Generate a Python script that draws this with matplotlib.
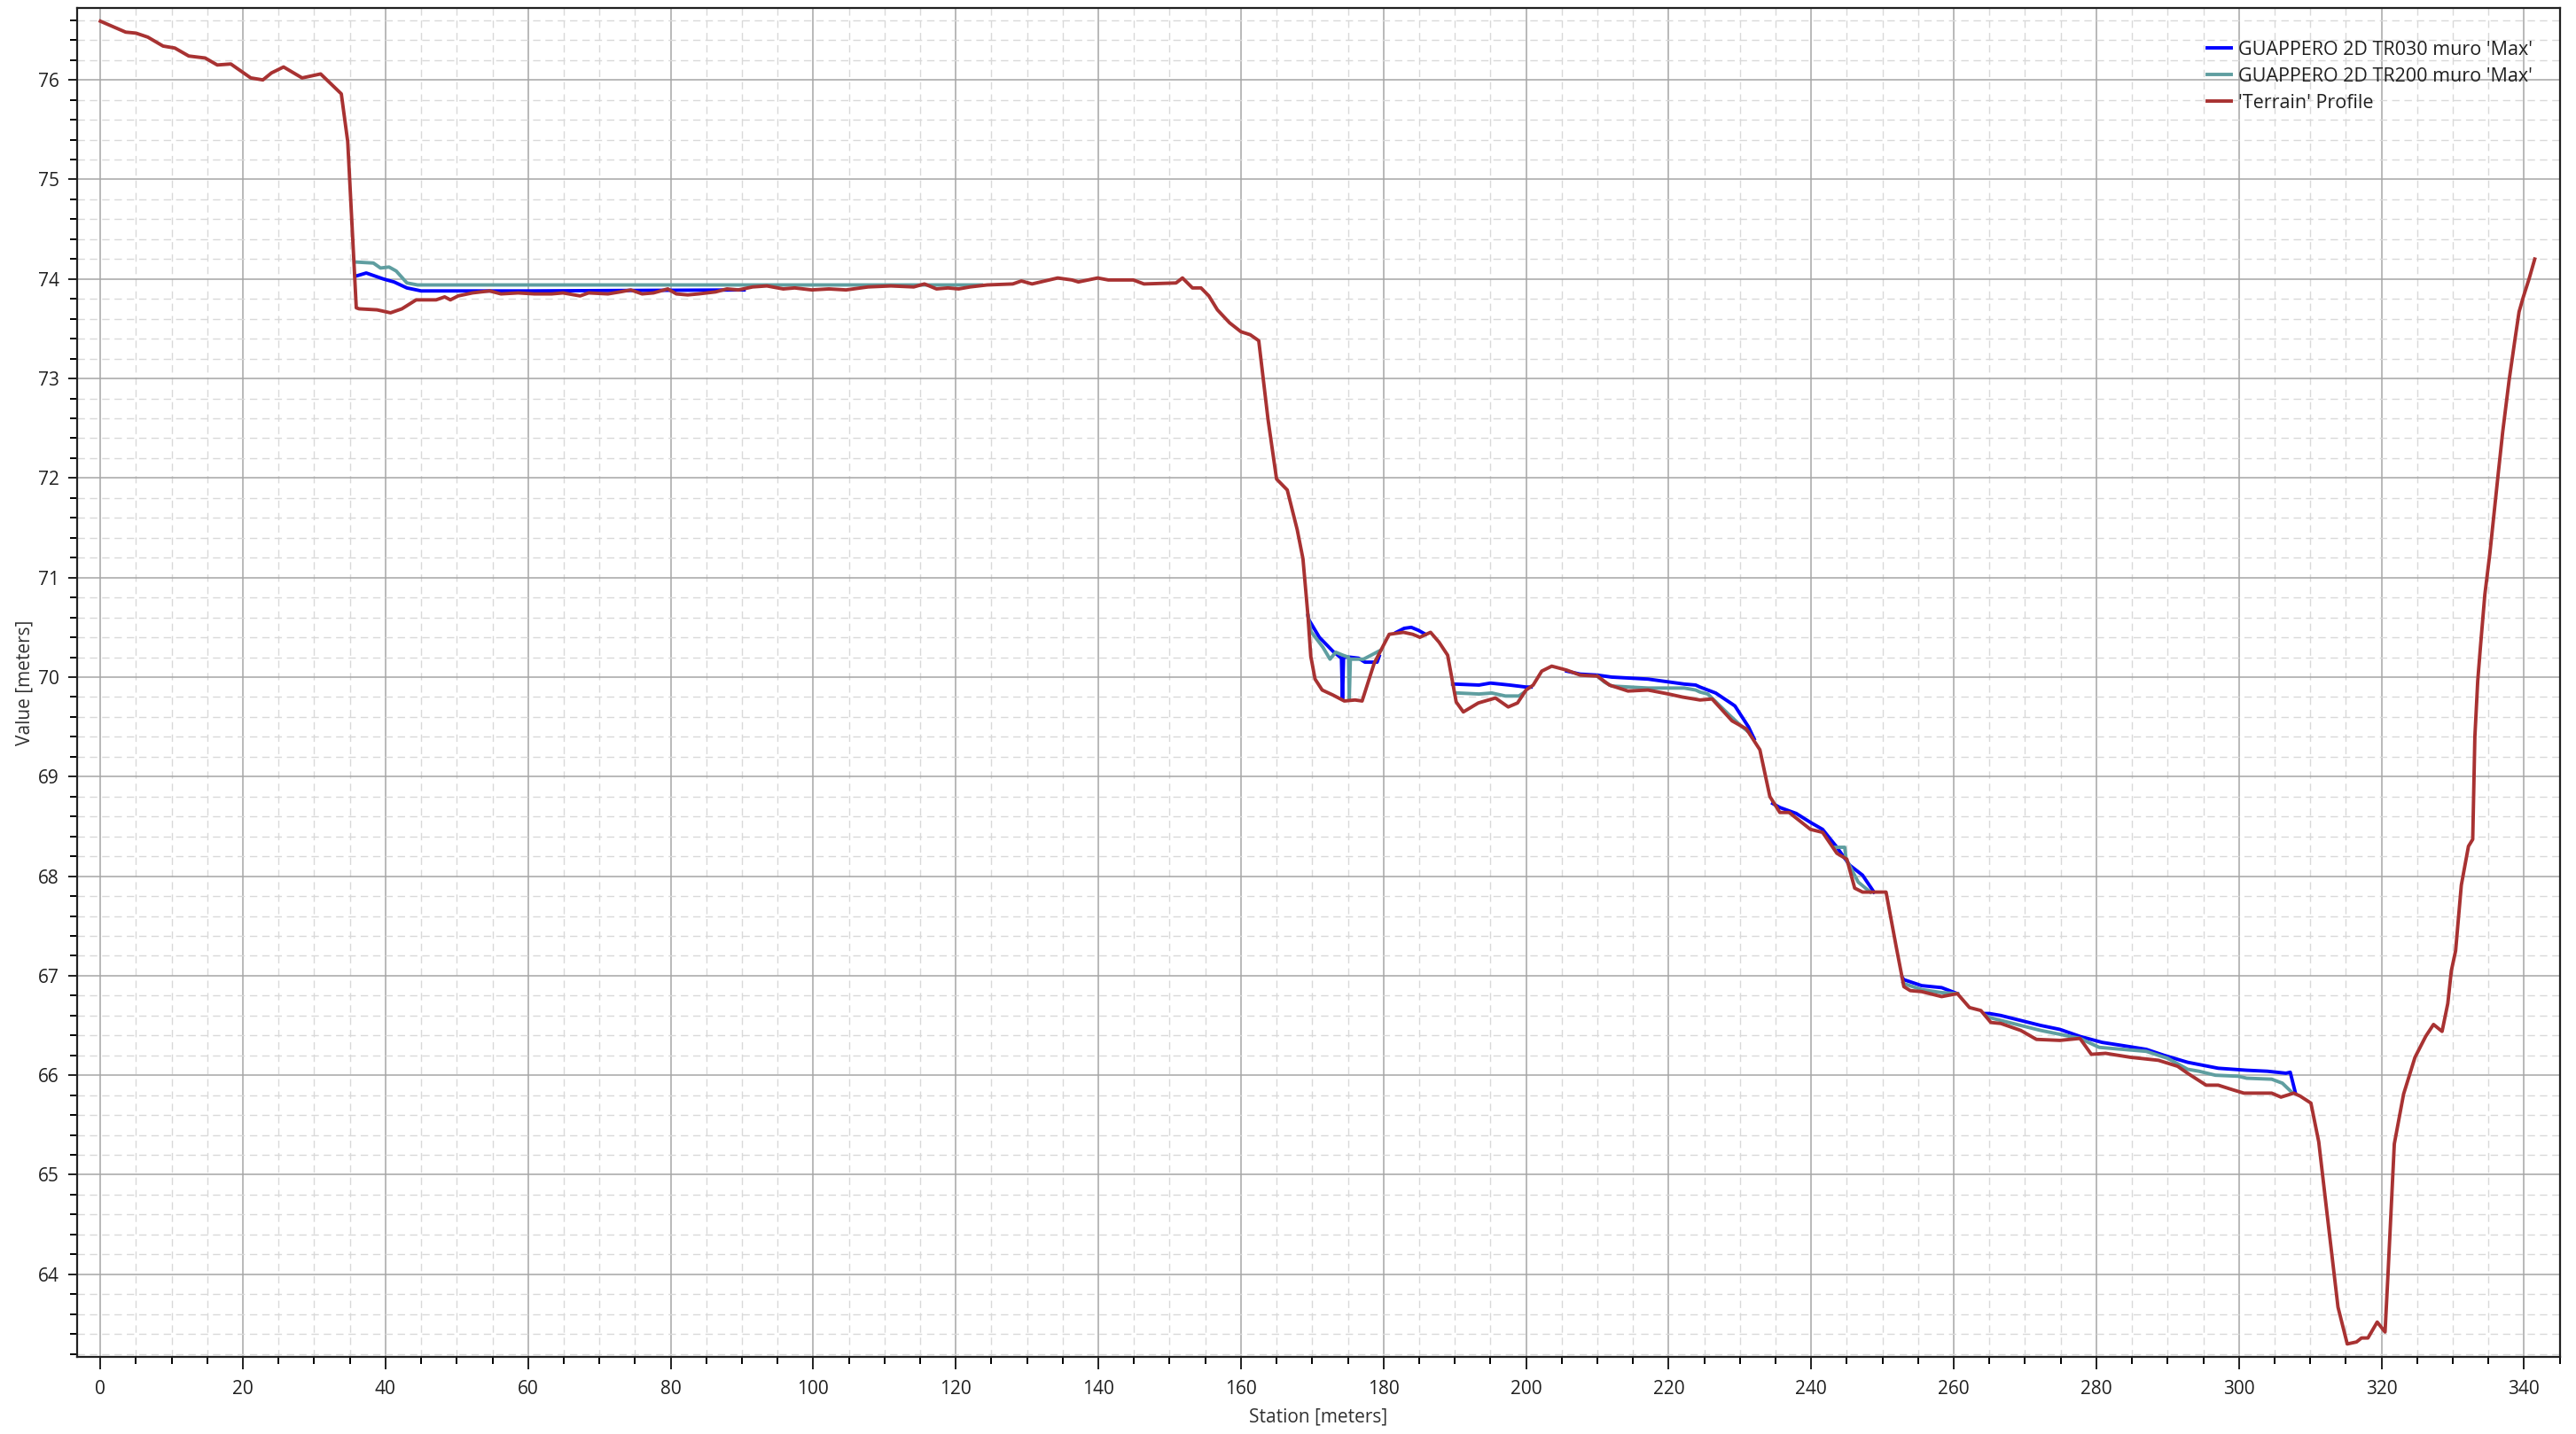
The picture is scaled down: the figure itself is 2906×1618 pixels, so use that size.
import numpy as np
import matplotlib
matplotlib.use("Agg")
import matplotlib.pyplot as plt
from matplotlib.ticker import MultipleLocator

plt.rcParams['font.family'] = ['Open Sans', 'DejaVu Sans']

# ---------------- data ----------------
terrain_x = [0, 1.6, 3.55, 5.0, 6.65, 8.8, 10.45, 12.4, 14.7, 16.4, 18.3, 21.1, 22.8, 24.0, 25.7,
             28.3, 30.9, 33.8, 34.7, 35.9, 36.3, 38.8, 40.7, 42.3, 44.3, 47.1, 48.3, 49.1, 50.2,
             52.2, 54.6, 56.2, 58.6, 60.9, 63.3, 64.9, 67.3, 68.5, 71.2, 72.9, 74.4, 76.0, 77.6,
             79.6, 80.8, 82.4, 83.9, 86.3, 87.9, 89.5, 91.5, 93.5, 95.8, 97.4, 99.8, 102.2, 104.6,
             107.7, 110.9, 114.1, 115.6, 117.3, 118.9, 120.4, 122.0, 124.4, 128.0, 129.2, 130.7,
             134.3, 136.3, 137.2, 139.9, 141.4, 144.9, 146.4, 150.9, 151.8, 153.2, 154.4, 155.5,
             156.7, 158.4, 160.0, 161.3, 162.5, 163.8, 165.0, 166.5, 167.9, 168.7, 169.4, 169.8,
             170.4, 171.4, 172.9, 174.5, 176.0, 177.0, 178.7, 180.8, 182.8, 184.1, 185.1, 186.6,
             187.8, 189.0, 190.2, 191.2, 193.3, 195.7, 197.5, 198.8, 200.0, 201.0, 202.2, 203.6,
             205.7, 207.6, 210.0, 211.7, 214.3, 217.1, 220.0, 221.9, 224.4, 226.1, 228.9, 230.9,
             232.8, 234.2, 235.6, 236.9, 239.9, 241.6, 243.6, 245.0, 246.1, 247.2, 250.5, 251.9,
             253.0, 253.9, 255.5, 258.3, 260.5, 262.2, 263.8, 265.2, 266.6, 269.4, 271.6, 274.9,
             277.7, 279.3, 281.3, 284.8, 288.7, 291.4, 292.8, 295.4, 297.1, 299.3, 300.7, 304.6,
             305.9, 307.7, 308.6, 310.1, 311.2, 312.3, 313.9, 315.2, 316.5, 317.2, 318.1, 319.4,
             320.5, 320.9, 321.8, 323.1, 324.7, 326.2, 327.3, 328.5, 329.3, 329.8, 330.4, 331.2,
             332.2, 332.8, 333.1, 333.5, 333.9, 334.5, 335.2, 335.8, 336.4, 337.0, 337.9, 338.7,
             339.3, 339.9, 340.7, 341.5]
terrain_z = [76.59, 76.54, 76.48, 76.47, 76.43, 76.34, 76.32, 76.24, 76.22, 76.15, 76.16, 76.02, 76.00,
             76.07, 76.13, 76.02, 76.06, 75.86, 75.38, 73.71, 73.70, 73.69, 73.66, 73.70, 73.79,
             73.79, 73.82, 73.79, 73.83, 73.86, 73.88, 73.85, 73.86, 73.85, 73.85, 73.86, 73.83,
             73.86, 73.85, 73.87, 73.89, 73.85, 73.86, 73.90, 73.85, 73.84, 73.85, 73.87, 73.90,
             73.89, 73.92, 73.93, 73.90, 73.91, 73.89, 73.90, 73.89, 73.92, 73.93, 73.92, 73.95,
             73.90, 73.91, 73.90, 73.92, 73.94, 73.95, 73.98, 73.95, 74.01, 73.99, 73.97, 74.01,
             73.99, 73.99, 73.95, 73.96, 74.01, 73.91, 73.91, 73.83, 73.69, 73.56, 73.47, 73.44,
             73.38, 72.59, 71.99, 71.88, 71.48, 71.19, 70.62, 70.21, 69.98, 69.87, 69.82, 69.76,
             69.77, 69.76, 70.14, 70.43, 70.45, 70.43, 70.40, 70.45, 70.35, 70.22, 69.75, 69.65,
             69.74, 69.79, 69.70, 69.74, 69.87, 69.92, 70.06, 70.11, 70.07, 70.02, 70.01, 69.92,
             69.86, 69.87, 69.83, 69.80, 69.77, 69.78, 69.56, 69.48, 69.27, 68.80, 68.64, 68.64,
             68.47, 68.44, 68.23, 68.17, 67.88, 67.84, 67.84, 67.30, 66.89, 66.85, 66.84, 66.79,
             66.82, 66.68, 66.65, 66.53, 66.52, 66.45, 66.36, 66.35, 66.37, 66.21, 66.22, 66.18,
             66.15, 66.09, 66.02, 65.90, 65.90, 65.85, 65.82, 65.82, 65.78, 65.82, 65.79, 65.72,
             65.33, 64.65, 63.67, 63.30, 63.32, 63.36, 63.36, 63.52, 63.42, 63.98, 65.31, 65.81,
             66.18, 66.39, 66.51, 66.44, 66.72, 67.05, 67.25, 67.91, 68.30, 68.37, 69.40, 69.96,
             70.32, 70.83, 71.24, 71.65, 72.06, 72.46, 72.98, 73.38, 73.67, 73.82, 74.00, 74.20]

# Water surface TR030 (only where it departs from the terrain; NaN = gap)
tr030_x = [35.9, 37.3, 39.7, 41.2, 43.0, 45.0, 60.0, 90.3, np.nan,
           169.4, 169.5, 171.0, 172.9, 174.1, 174.25, 174.4, 175.3, 176.5, 177.4, 179.1, 179.4, np.nan,
           181.8, 182.9, 183.9, 184.9, 185.9, np.nan,
           189.7, 190.0, 193.4, 195.0, 197.7, 200.0, 200.7, np.nan,
           205.7, 207.6, 210.0, 212.0, 217.1, 222.2, 223.8, 224.4, 226.6, 228.9, 229.3, 231.2, 232.0, np.nan,
           234.6, 235.6, 237.9, 239.9, 241.6, 243.5, 245.4, 247.2, 248.8, np.nan,
           252.8, 253.0, 255.5, 258.3, 260.5, np.nan,
           264.4, 265.0, 266.6, 269.4, 272.2, 274.9, 277.7, 280.8, 283.5, 287.0, 289.5, 292.8,
           297.1, 301.1, 304.0, 306.6, 307.2, 307.9]
tr030_z = [74.03, 74.06, 74.00, 73.97, 73.91, 73.88, 73.88, 73.89, np.nan,
           70.62, 70.58, 70.40, 70.26, 70.19, 69.78, 70.20, 70.20, 70.19, 70.15, 70.15, 70.21, np.nan,
           70.45, 70.49, 70.50, 70.47, 70.43, np.nan,
           69.93, 69.93, 69.92, 69.94, 69.92, 69.90, 69.90, np.nan,
           70.06, 70.03, 70.02, 70.00, 69.98, 69.93, 69.92, 69.90, 69.84, 69.73, 69.71, 69.50, 69.38, np.nan,
           68.73, 68.69, 68.63, 68.54, 68.47, 68.30, 68.11, 68.01, 67.84, np.nan,
           66.98, 66.96, 66.90, 66.88, 66.82, np.nan,
           66.62, 66.62, 66.60, 66.55, 66.50, 66.46, 66.39, 66.33, 66.30, 66.26, 66.20, 66.13,
           66.07, 66.05, 66.04, 66.02, 66.03, 65.83]

# Water surface TR200
tr200_x = [35.9, 38.3, 39.3, 40.5, 41.5, 43.0, 44.5, 80.0, 123.6, np.nan,
           169.4, 169.8, 171.5, 172.5, 173.3, 174.3, 175.1, 175.2, 175.35, 175.7, 177.2, 179.6, np.nan,
           190.2, 190.5, 193.4, 195.2, 197.1, 199.0, 199.8, np.nan,
           210.0, 211.0, 212.0, 217.1, 222.2, 223.8, 224.4, 225.5, 228.5, 230.0, 231.0, np.nan,
           243.4, 244.7, 244.9, 246.6, 248.3, np.nan,
           252.9, 253.0, 255.5, 258.3, 260.5, np.nan,
           264.5, 265.0, 269.4, 272.2, 277.7, 280.4, 287.0, 290.0, 292.8, 294.4, 296.7, 299.9,
           301.1, 304.6, 306.1, 307.4]
tr200_z = [74.17, 74.16, 74.11, 74.12, 74.08, 73.96, 73.94, 73.94, 73.94, np.nan,
           70.62, 70.46, 70.30, 70.18, 70.25, 70.22, 70.20, 69.78, 70.18, 70.18, 70.18, 70.27, np.nan,
           69.84, 69.84, 69.83, 69.84, 69.81, 69.81, 69.85, np.nan,
           70.01, 69.95, 69.91, 69.89, 69.89, 69.87, 69.85, 69.83, 69.62, 69.52, 69.46, np.nan,
           68.29, 68.29, 68.17, 67.94, 67.84, np.nan,
           66.93, 66.92, 66.86, 66.83, 66.82, np.nan,
           66.60, 66.58, 66.50, 66.45, 66.37, 66.28, 66.24, 66.17, 66.06, 66.04, 66.00, 65.99,
           65.97, 65.96, 65.92, 65.83]

labels = ["GUAPPERO 2D TR030 muro 'Max'", "GUAPPERO 2D TR200 muro 'Max'", "'Terrain' Profile"]
colors = ["#0000FF", "#5F9EA0", "#A83232"]

# ---------------- figure ----------------
W, H, DPI = 2906, 1618, 100
fig = plt.figure(figsize=(W / DPI, H / DPI), dpi=DPI)
fig.patch.set_facecolor("white")
ax = fig.add_axes([0.02983, 0.05377, 0.96384, 0.94048])

lw = 2.8
ax.plot(tr030_x, tr030_z, color=colors[0], lw=lw, label=labels[0], zorder=3, solid_joinstyle='round')
ax.plot(tr200_x, tr200_z, color=colors[1], lw=lw, label=labels[1], zorder=4, solid_joinstyle='round')
ax.plot(terrain_x, terrain_z, color=colors[2], lw=lw, label=labels[2], zorder=5, solid_joinstyle='round')

ax.set_xlim(-3.3, 345.0)
ax.set_ylim(63.17, 76.72)

ax.xaxis.set_major_locator(MultipleLocator(20))
ax.xaxis.set_minor_locator(MultipleLocator(5))
ax.yaxis.set_major_locator(MultipleLocator(1))
ax.yaxis.set_minor_locator(MultipleLocator(0.2))

ax.grid(which='major', color='#A6A6A6', linestyle='-', linewidth=1.1, zorder=0)
ax.grid(which='minor', color='#D9D9D9', linestyle=(0, (6, 4)), linewidth=1.0, zorder=0)
ax.set_axisbelow(True)

for s in ax.spines.values():
    s.set_linewidth(1.6)
    s.set_color('#202020')

ax.tick_params(axis='x', which='major', direction='out', length=10, width=1.4, pad=9,
               labelsize=15, colors='#202020')
ax.tick_params(axis='x', which='minor', direction='out', length=6, width=1.4)
ax.tick_params(axis='y', which='major', direction='out', length=7.5, width=1.4, pad=7,
               labelsize=15, colors='#202020')
ax.tick_params(axis='y', which='minor', direction='out', length=6, width=1.4)

ax.set_xlabel("Station [meters]", fontsize=15, color='#303030', labelpad=7)
ax.set_ylabel("Value [meters]", fontsize=15, color='#303030', labelpad=3)

leg = ax.legend(loc='upper right', bbox_to_anchor=(0.989, 0.976), frameon=False,
                fontsize=15.5, handlelength=1.25, handletextpad=0.37, labelspacing=0.42,
                borderaxespad=0, borderpad=0)
for t in leg.get_texts():
    t.set_color('#202020')
for h in leg.get_lines():
    h.set_linewidth(2.8)

fig.savefig("out.png", dpi=DPI, facecolor="white")
